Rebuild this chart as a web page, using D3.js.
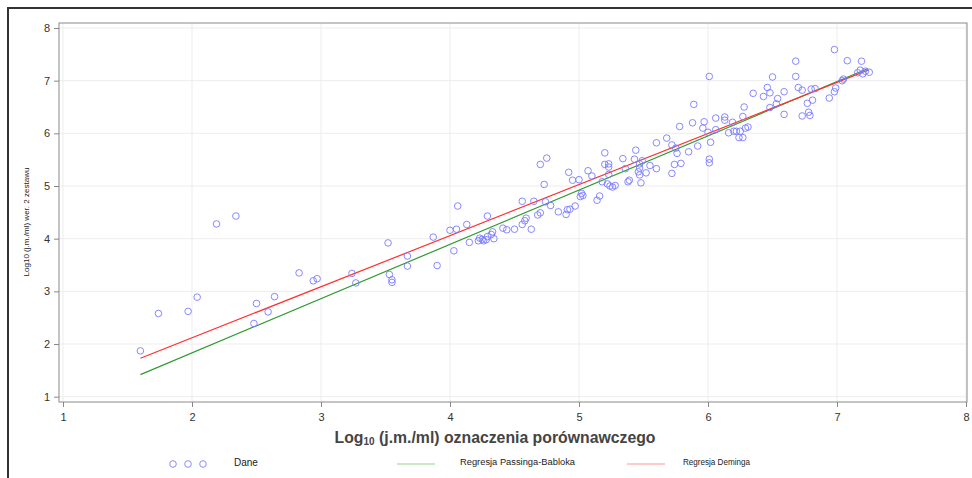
<!DOCTYPE html>
<html>
<head>
<meta charset="utf-8">
<script src="https://cdn.jsdelivr.net/npm/d3@7"></script>
<style>
  body { margin: 0; background: #fff; }
  text { font-family: "Liberation Sans", Arial, sans-serif; }
</style>
</head>
<body>
<div id="chart"></div>
<script>
// measured points (reference vs second set)
const xs = [
  1.60,1.74,1.97,2.04,2.19,2.34,2.50,2.48,2.59,2.64,
  2.83,2.94,2.97,3.24,3.27,3.52,3.53,3.55,3.55,3.67,
  3.67,3.87,3.90,4.00,4.03,4.05,4.06,4.13,4.15,4.22,
  4.23,4.25,4.26,4.28,4.29,4.29,4.32,4.33,4.34,4.41,
  4.44,4.50,4.56,4.56,4.58,4.59,4.63,4.65,4.68,4.70,
  4.70,4.73,4.74,4.75,4.78,4.84,4.90,4.91,4.92,4.95,
  4.93,4.97,5.00,5.02,5.03,5.01,5.07,5.10,5.14,5.16,
  5.18,5.20,5.20,5.23,5.23,5.22,5.24,5.26,5.28,5.23,
  5.34,5.36,5.38,5.39,5.43,5.44,5.47,5.47,5.46,5.47,
  5.49,5.48,5.52,5.55,5.60,5.60,5.68,5.72,5.72,5.74,
  5.75,5.76,5.78,5.79,5.85,5.88,5.89,5.92,5.96,5.97,
  6.00,6.01,6.01,6.01,6.02,6.06,6.06,6.13,6.13,6.16,
  6.19,6.20,6.22,6.25,6.24,6.27,6.27,6.28,6.29,6.31,
  6.35,6.43,6.46,6.48,6.50,6.48,6.53,6.54,6.59,6.59,
  6.68,6.68,6.70,6.73,6.73,6.77,6.81,6.80,6.83,6.78,
  6.79,6.94,6.98,6.99,7.04,7.05,7.08,7.19,7.16,7.18,
  7.20,7.22,7.25,6.98];
const ys = [
  1.87,2.58,2.62,2.89,4.28,4.43,2.77,2.39,2.61,2.90,
  3.35,3.20,3.24,3.34,3.16,3.92,3.32,3.22,3.17,3.67,
  3.48,4.03,3.49,4.16,3.77,4.18,4.62,4.27,3.93,3.96,
  4.01,3.99,3.96,3.98,4.43,4.04,4.08,4.13,4.00,4.20,
  4.17,4.18,4.27,4.71,4.34,4.39,4.18,4.71,4.45,4.49,
  5.41,5.03,4.70,5.53,4.63,4.51,4.46,4.55,5.26,5.11,
  4.56,4.62,5.12,4.86,4.82,4.80,5.29,5.19,4.73,4.81,
  5.08,5.63,5.41,5.36,5.42,5.04,5.00,4.98,5.01,5.22,
  5.52,5.33,5.08,5.11,5.51,5.68,5.42,5.34,5.27,5.21,
  5.48,5.06,5.25,5.39,5.33,5.82,5.91,5.78,5.24,5.41,
  5.72,5.62,6.13,5.43,5.65,6.20,6.55,5.76,6.10,6.22,
  6.02,5.51,5.44,7.08,5.83,6.29,6.07,6.31,6.25,6.01,
  6.21,6.04,6.04,6.04,5.92,5.92,6.32,6.50,6.10,6.12,
  6.76,6.70,6.87,6.77,7.07,6.49,6.56,6.66,6.79,6.36,
  7.37,7.08,6.87,6.82,6.33,6.57,6.63,6.84,6.85,6.40,
  6.34,6.67,6.79,6.86,7.00,7.03,7.38,7.37,7.15,7.20,
  7.13,7.18,7.16,7.59];

// regression lines (end points)
const passingX = [1.60, 7.24], passingY = [1.42, 7.23];
const demingX = [1.60, 7.24], demingY = [1.73, 7.20];

const xTicks = [1, 2, 3, 4, 5, 6, 7, 8];
const yTicks = [1, 2, 3, 4, 5, 6, 7, 8];
const legendLabels = ["Dane", "Regresja Passinga-Babloka", "Regresja Deminga"];

const width = 972, height = 478;
const svg = d3.select("#chart").append("svg")
  .attr("width", width)
  .attr("height", height);

const x = d3.scaleLinear().domain([1, 8]).range([63, 966]);
const y = d3.scaleLinear().domain([1, 8]).range([396.7, 28]);
const plot = { left: 59, right: 967, top: 23, bottom: 402 };

// outer frame
svg.append("rect")
  .attr("x", 8).attr("y", 8)
  .attr("width", 1000).attr("height", 1000)
  .attr("fill", "none").attr("stroke", "#333").attr("stroke-width", 2);

// grid
svg.append("g").selectAll("line").data(xTicks).enter().append("line")
  .attr("x1", d => x(d)).attr("x2", d => x(d))
  .attr("y1", plot.top).attr("y2", plot.bottom)
  .attr("stroke", "#ededed");
svg.append("g").selectAll("line").data(yTicks).enter().append("line")
  .attr("x1", plot.left).attr("x2", plot.right)
  .attr("y1", d => y(d)).attr("y2", d => y(d))
  .attr("stroke", "#ededed");

// plot frame
svg.append("rect")
  .attr("x", plot.left).attr("y", plot.top)
  .attr("width", plot.right - plot.left).attr("height", plot.bottom - plot.top)
  .attr("fill", "none").attr("stroke", "#8a8a8a").attr("stroke-width", 1);

// x axis
const xAxis = svg.append("g").attr("transform", `translate(0,${plot.bottom})`);
xAxis.call(d3.axisBottom(x).tickValues(d3.range(1, 8.001, 0.1)).tickSize(4).tickFormat(""));
xAxis.call(d3.axisBottom(x).tickValues(xTicks).tickSize(5).tickPadding(6).tickFormat(d3.format("d")));
xAxis.selectAll(".domain").remove();
xAxis.selectAll("line").attr("stroke", "#888");
xAxis.selectAll("text").attr("font-size", 11).attr("fill", "#333")
  .attr("font-family", "Liberation Sans, Arial, sans-serif");

// y axis
const yAxis = svg.append("g").attr("transform", `translate(${plot.left},0)`);
yAxis.call(d3.axisLeft(y).tickValues(d3.range(1, 8.001, 0.2)).tickSize(3).tickFormat(""));
yAxis.call(d3.axisLeft(y).tickValues(yTicks).tickSize(5).tickPadding(4).tickFormat(d3.format("d")));
yAxis.selectAll(".domain").remove();
yAxis.selectAll("line").attr("stroke", "#888");
yAxis.selectAll("text").attr("font-size", 11).attr("fill", "#333")
  .attr("font-family", "Liberation Sans, Arial, sans-serif");

// regression lines
const line = d3.line().x(d => x(d[0])).y(d => y(d[1]));
svg.append("path")
  .attr("d", line(d3.zip(passingX, passingY)))
  .attr("fill", "none").attr("stroke", "#2f9a2f").attr("stroke-width", 1.2);
svg.append("path")
  .attr("d", line(d3.zip(demingX, demingY)))
  .attr("fill", "none").attr("stroke", "#ff3030").attr("stroke-width", 1.2);

// data points
svg.append("g").selectAll("circle")
  .data(d3.zip(xs, ys))
  .enter().append("circle")
  .attr("cx", d => x(d[0]))
  .attr("cy", d => y(d[1]))
  .attr("r", 3.3)
  .attr("fill", "none")
  .attr("stroke", "#7b7bff")
  .attr("stroke-width", 0.9);

// axis titles
const xt = svg.append("text")
  .attr("x", 495).attr("y", 443)
  .attr("text-anchor", "middle")
  .attr("font-size", 15.8).attr("font-weight", "bold").attr("fill", "#444");
xt.append("tspan").text("Log");
xt.append("tspan").attr("font-size", 10).attr("dy", 2).text("10");
xt.append("tspan").attr("dy", -2).text(" (j.m./ml) oznaczenia porównawczego");

svg.append("text")
  .attr("transform", "translate(29,222) rotate(-90)")
  .attr("text-anchor", "middle")
  .attr("font-size", 7.5).attr("fill", "#222")
  .attr("textLength", 109).attr("lengthAdjust", "spacingAndGlyphs")
  .text("Log10 (j.m./ml) wer. 2 zestawu");

// legend
const legY = 464;
svg.append("g").selectAll("circle").data([173, 188, 203]).enter().append("circle")
  .attr("cx", d => d).attr("cy", legY).attr("r", 3.3)
  .attr("fill", "none").attr("stroke", "#8c8cff").attr("stroke-width", 1);
svg.append("text").attr("x", 234).attr("y", legY + 2)
  .attr("font-size", 10).attr("fill", "#222").text(legendLabels[0]);
svg.append("line").attr("x1", 397).attr("x2", 435).attr("y1", legY).attr("y2", legY)
  .attr("stroke", "#b5e2b5").attr("stroke-width", 1.3);
svg.append("text").attr("x", 460).attr("y", legY + 1)
  .attr("font-size", 8.5).attr("fill", "#222")
  .attr("textLength", 115).attr("lengthAdjust", "spacingAndGlyphs")
  .text(legendLabels[1]);
svg.append("line").attr("x1", 627).attr("x2", 665).attr("y1", legY).attr("y2", legY)
  .attr("stroke", "#ffb8b8").attr("stroke-width", 1.3);
svg.append("text").attr("x", 683).attr("y", legY + 1)
  .attr("font-size", 8.5).attr("fill", "#222")
  .attr("textLength", 67).attr("lengthAdjust", "spacingAndGlyphs")
  .text(legendLabels[2]);
</script>
</body>
</html>
